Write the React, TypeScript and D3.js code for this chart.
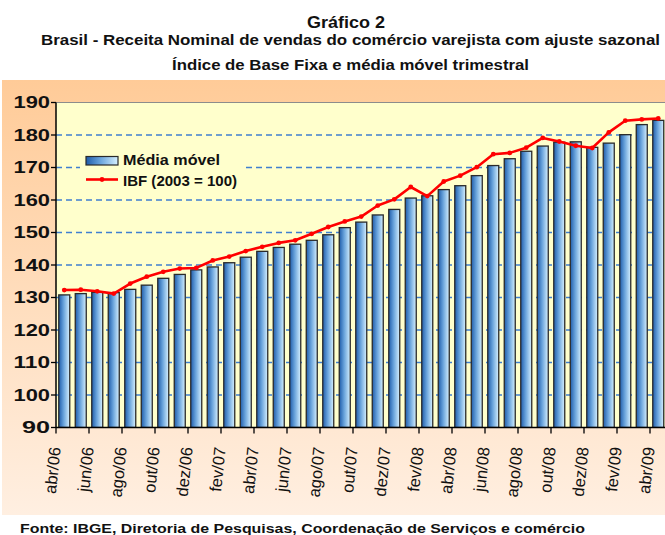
import React from "react";
import * as d3 from "d3";

const categories = [
  "abr/06","mai/06","jun/06","jul/06","ago/06","set/06","out/06","nov/06","dez/06",
  "jan/07","fev/07","mar/07","abr/07","mai/07","jun/07","jul/07","ago/07","set/07","out/07","nov/07","dez/07",
  "jan/08","fev/08","mar/08","abr/08","mai/08","jun/08","jul/08","ago/08","set/08","out/08","nov/08","dez/08",
  "jan/09","fev/09","mar/09","abr/09",
];

const mediaMovel = [
  130.8, 131.2, 131.6, 131.5, 132.5, 133.8, 135.9, 137.1, 138.5,
  139.4, 140.7, 142.4, 144.2, 145.4, 146.4, 147.6, 149.3, 151.5, 153.2, 155.4, 157.1,
  160.6, 161.3, 163.2, 164.4, 167.5, 170.6, 172.7, 175.0, 176.6, 177.8, 177.9, 176.2,
  177.5, 180.1, 183.2, 184.5,
];

const ibf = [
  132.3, 132.4, 131.9, 131.2, 134.3, 136.4, 137.9, 138.9, 139.1,
  141.4, 142.6, 144.3, 145.6, 146.8, 147.6, 149.6, 151.7, 153.4, 154.9, 158.3, 160.2,
  164.0, 161.2, 165.7, 167.5, 170.1, 174.1, 174.5, 176.1, 179.1, 178.0, 176.7, 176.0,
  180.8, 184.4, 184.8, 185.1,
];

const yTicks = [90, 100, 110, 120, 130, 140, 150, 160, 170, 180, 190];

const titleLine1 = "Gráfico 2";
const titleLine2 = "Brasil - Receita Nominal de vendas do comércio varejista com ajuste sazonal";
const titleLine3 = "Índice de Base Fixa  e média móvel trimestral";
const legendBar = "Média móvel";
const legendLine = "IBF (2003 = 100)";
const footer = "Fonte: IBGE, Diretoria de Pesquisas, Coordenação de Serviços e comércio";

const W = 665;
const H = 535;
const plotLeft = 56;
const plotTop = 102.5;
const plotBottom = 427.5;
const step = 16.5;

export default function App() {
  const x = d3
    .scaleBand<string>()
    .domain(categories)
    .range([plotLeft, plotLeft + step * categories.length])
    .paddingInner(1 / 3)
    .paddingOuter(1 / 6);
  const y = d3.scaleLinear().domain([90, 190]).range([plotBottom, plotTop]);
  const center = (c: string) => (x(c) as number) + x.bandwidth() / 2;
  const catLeft = (i: number) => plotLeft + step * i;

  const line = d3
    .line<number>()
    .x((_, i) => center(categories[i]))
    .y((d) => y(d));

  const font = "'Liberation Sans', Arial, sans-serif";

  return (
    <svg
      width={W}
      height={H}
      style={{ position: "absolute", left: 0, top: 0, display: "block" }}
    >
      <defs>
        <linearGradient id="bg" x1="0" y1="0" x2="0" y2="1">
          <stop offset="0%" stopColor="#FFCB98" />
          <stop offset="100%" stopColor="#FFEFE1" />
        </linearGradient>
        <linearGradient id="bar" x1="0" y1="0" x2="1" y2="0">
          <stop offset="0%" stopColor="#1F5CAA" />
          <stop offset="45%" stopColor="#6AA4DC" />
          <stop offset="100%" stopColor="#D6F0FF" />
        </linearGradient>
        <clipPath id="plotClip">
          <rect x={plotLeft} y={plotTop - 5} width={W - plotLeft} height={plotBottom - plotTop + 5} />
        </clipPath>
      </defs>

      <rect x={0} y={0} width={W} height={H} fill="#FFFFFF" />
      {/* titles */}
      <text x={307} y={27.5} fontFamily={font} fontWeight="bold" fontSize={16.5}
        textLength={78} lengthAdjust="spacingAndGlyphs" fill="#111">{titleLine1}</text>
      <text x={41} y={45} fontFamily={font} fontWeight="bold" fontSize={15}
        textLength={619} lengthAdjust="spacingAndGlyphs" fill="#111">{titleLine2}</text>
      <text x={172} y={70} fontFamily={font} fontWeight="bold" fontSize={14.5}
        textLength={357} lengthAdjust="spacingAndGlyphs" fill="#111">{titleLine3}</text>

      {/* chart area */}
      <rect x={2} y={80} width={W - 2} height={435} fill="url(#bg)" />

      {/* plot area */}
      <rect x={plotLeft} y={plotTop} width={W - plotLeft} height={plotBottom - plotTop} fill="#FFFFCC" />
      <line x1={plotLeft} x2={W} y1={plotTop} y2={plotTop} stroke="#8C8C8C" strokeWidth={1.2} />

      {/* gridlines */}
      {yTicks.filter((t) => t > 90 && t < 190).map((t) => (
        <line key={"g" + t} x1={plotLeft} x2={W} y1={y(t)} y2={y(t)}
          stroke="#3F7FD0" strokeWidth={1.5} strokeDasharray="6,4" />
      ))}

      {/* legend background */}
      <rect x={80} y={147} width={162} height={45} fill="#FFFFCC" />

      {/* bars */}
      <g clipPath="url(#plotClip)">
        {mediaMovel.map((v, i) => (
          <rect key={"b" + i} x={x(categories[i])} y={y(v)} width={x.bandwidth()}
            height={plotBottom - y(v)} fill="url(#bar)" stroke="#2A2A2A" strokeWidth={1.3} />
        ))}
        <path d={line(ibf) as string} fill="none" stroke="#FF0000" strokeWidth={2.6} strokeLinejoin="round" />
        {ibf.map((v, i) => (
          <circle key={"p" + i} cx={center(categories[i])} cy={y(v)} r={2.4} fill="#FF0000" />
        ))}
      </g>

      {/* axes */}
      <line x1={plotLeft} x2={plotLeft} y1={plotTop} y2={plotBottom} stroke="#000" strokeWidth={1.5} />
      <line x1={plotLeft} x2={W} y1={plotBottom} y2={plotBottom} stroke="#000" strokeWidth={1.5} />
      {yTicks.map((t) => (
        <g key={"yt" + t}>
          <line x1={plotLeft - 5} x2={plotLeft} y1={y(t)} y2={y(t)} stroke="#000" strokeWidth={1.3} />
          <text x={t >= 100 ? 13.5 : 22} y={y(t)} dy="0.36em" fontFamily={font} fontWeight="bold"
            fontSize={16.3} textLength={t >= 100 ? 36.5 : 28} lengthAdjust="spacingAndGlyphs" fill="#111">
            {String(t)}
          </text>
        </g>
      ))}
      {categories.map((c, i) =>
        i % 2 === 0 ? (
          <g key={"xt" + i}>
            <line x1={catLeft(i)} x2={catLeft(i)} y1={plotBottom} y2={plotBottom + 6} stroke="#000" strokeWidth={1.3} />
            <text transform={`translate(${catLeft(i) - 1},447) rotate(-84)`} textAnchor="end" dy="0.35em"
              fontFamily={font} fontSize={16.5} fill="#111">
              {c}
            </text>
          </g>
        ) : null
      )}

      {/* legend */}
      <rect x={86} y={156.5} width={32} height={8.5} fill="url(#bar)" stroke="#2A2A2A" strokeWidth={1.2} />
      <text x={123} y={165} fontFamily={font} fontWeight="bold" fontSize={14}
        textLength={97} lengthAdjust="spacingAndGlyphs" fill="#111">{legendBar}</text>
      <line x1={86} x2={118} y1={179.5} y2={179.5} stroke="#FF0000" strokeWidth={2.6} />
      <circle cx={102} cy={179.5} r={2.4} fill="#FF0000" />
      <text x={123} y={185.5} fontFamily={font} fontWeight="bold" fontSize={14}
        textLength={114} lengthAdjust="spacingAndGlyphs" fill="#111">{legendLine}</text>

      {/* footer */}
      <text x={20} y={533} fontFamily={font} fontWeight="bold" fontSize={13}
        textLength={565} lengthAdjust="spacingAndGlyphs" fill="#111">{footer}</text>
    </svg>
  );
}
